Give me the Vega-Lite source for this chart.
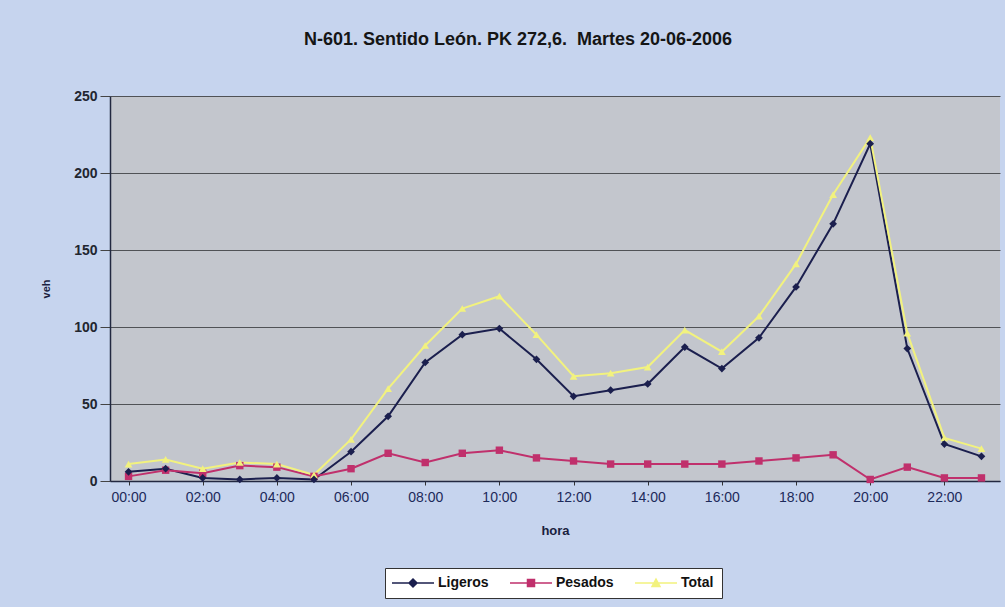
{
  "$schema": "https://vega.github.io/schema/vega-lite/v6.json",
  "width": 890,
  "height": 385,
  "autosize": {"type": "none"},
  "padding": {"left": 110, "top": 96, "right": 5, "bottom": 126},
  "background": "#c6d4ee",
  "title": {
    "text": "N-601. Sentido León. PK 272,6.\u00a0 Martes 20-06-2006",
    "font": "Liberation Sans",
    "fontSize": 18,
    "fontWeight": "bold",
    "color": "#151515",
    "offset": 40,
    "dx": -37,
    "anchor": "middle"
  },
  "config": {
    "view": {"fill": "#c3c6cd", "stroke": null},
    "axis": {"labelFont": "Liberation Sans", "titleFont": "Liberation Sans"},
    "legend": {"labelFont": "Liberation Sans"}
  },
  "data": {
    "values": [
      {"hora": "00:00", "serie": "Ligeros", "veh": 6},
      {"hora": "01:00", "serie": "Ligeros", "veh": 8},
      {"hora": "02:00", "serie": "Ligeros", "veh": 2},
      {"hora": "03:00", "serie": "Ligeros", "veh": 1},
      {"hora": "04:00", "serie": "Ligeros", "veh": 2},
      {"hora": "05:00", "serie": "Ligeros", "veh": 1},
      {"hora": "06:00", "serie": "Ligeros", "veh": 19},
      {"hora": "07:00", "serie": "Ligeros", "veh": 42},
      {"hora": "08:00", "serie": "Ligeros", "veh": 77},
      {"hora": "09:00", "serie": "Ligeros", "veh": 95},
      {"hora": "10:00", "serie": "Ligeros", "veh": 99},
      {"hora": "11:00", "serie": "Ligeros", "veh": 79},
      {"hora": "12:00", "serie": "Ligeros", "veh": 55},
      {"hora": "13:00", "serie": "Ligeros", "veh": 59},
      {"hora": "14:00", "serie": "Ligeros", "veh": 63},
      {"hora": "15:00", "serie": "Ligeros", "veh": 87},
      {"hora": "16:00", "serie": "Ligeros", "veh": 73},
      {"hora": "17:00", "serie": "Ligeros", "veh": 93},
      {"hora": "18:00", "serie": "Ligeros", "veh": 126},
      {"hora": "19:00", "serie": "Ligeros", "veh": 167},
      {"hora": "20:00", "serie": "Ligeros", "veh": 219},
      {"hora": "21:00", "serie": "Ligeros", "veh": 86},
      {"hora": "22:00", "serie": "Ligeros", "veh": 24},
      {"hora": "23:00", "serie": "Ligeros", "veh": 16},
      {"hora": "00:00", "serie": "Pesados", "veh": 3},
      {"hora": "01:00", "serie": "Pesados", "veh": 7},
      {"hora": "02:00", "serie": "Pesados", "veh": 5},
      {"hora": "03:00", "serie": "Pesados", "veh": 10},
      {"hora": "04:00", "serie": "Pesados", "veh": 9},
      {"hora": "05:00", "serie": "Pesados", "veh": 3},
      {"hora": "06:00", "serie": "Pesados", "veh": 8},
      {"hora": "07:00", "serie": "Pesados", "veh": 18},
      {"hora": "08:00", "serie": "Pesados", "veh": 12},
      {"hora": "09:00", "serie": "Pesados", "veh": 18},
      {"hora": "10:00", "serie": "Pesados", "veh": 20},
      {"hora": "11:00", "serie": "Pesados", "veh": 15},
      {"hora": "12:00", "serie": "Pesados", "veh": 13},
      {"hora": "13:00", "serie": "Pesados", "veh": 11},
      {"hora": "14:00", "serie": "Pesados", "veh": 11},
      {"hora": "15:00", "serie": "Pesados", "veh": 11},
      {"hora": "16:00", "serie": "Pesados", "veh": 11},
      {"hora": "17:00", "serie": "Pesados", "veh": 13},
      {"hora": "18:00", "serie": "Pesados", "veh": 15},
      {"hora": "19:00", "serie": "Pesados", "veh": 17},
      {"hora": "20:00", "serie": "Pesados", "veh": 1},
      {"hora": "21:00", "serie": "Pesados", "veh": 9},
      {"hora": "22:00", "serie": "Pesados", "veh": 2},
      {"hora": "23:00", "serie": "Pesados", "veh": 2},
      {"hora": "00:00", "serie": "Total", "veh": 11},
      {"hora": "01:00", "serie": "Total", "veh": 14},
      {"hora": "02:00", "serie": "Total", "veh": 8},
      {"hora": "03:00", "serie": "Total", "veh": 12},
      {"hora": "04:00", "serie": "Total", "veh": 11},
      {"hora": "05:00", "serie": "Total", "veh": 4},
      {"hora": "06:00", "serie": "Total", "veh": 27},
      {"hora": "07:00", "serie": "Total", "veh": 60},
      {"hora": "08:00", "serie": "Total", "veh": 88},
      {"hora": "09:00", "serie": "Total", "veh": 112},
      {"hora": "10:00", "serie": "Total", "veh": 120},
      {"hora": "11:00", "serie": "Total", "veh": 95},
      {"hora": "12:00", "serie": "Total", "veh": 68},
      {"hora": "13:00", "serie": "Total", "veh": 70},
      {"hora": "14:00", "serie": "Total", "veh": 74},
      {"hora": "15:00", "serie": "Total", "veh": 98},
      {"hora": "16:00", "serie": "Total", "veh": 84},
      {"hora": "17:00", "serie": "Total", "veh": 107},
      {"hora": "18:00", "serie": "Total", "veh": 141},
      {"hora": "19:00", "serie": "Total", "veh": 186},
      {"hora": "20:00", "serie": "Total", "veh": 223},
      {"hora": "21:00", "serie": "Total", "veh": 96},
      {"hora": "22:00", "serie": "Total", "veh": 28},
      {"hora": "23:00", "serie": "Total", "veh": 21}
    ]
  },
  "encoding": {
    "x": {
      "field": "hora",
      "type": "ordinal",
      "sort": null,
      "scale": {"type": "point", "padding": 0.5},
      "axis": {
        "title": "hora",
        "titleFontSize": 13,
        "titleFontWeight": "bold",
        "titleColor": "#1a1f40",
        "titlePadding": 20,
        "values": ["00:00", "02:00", "04:00", "06:00", "08:00", "10:00", "12:00", "14:00", "16:00", "18:00", "20:00", "22:00"],
        "labelAngle": 0,
        "labelFontSize": 14,
        "labelColor": "#1d2a5a",
        "labelPadding": 5,
        "tickSize": 4,
        "tickColor": "#333333",
        "domainColor": "#222840",
        "domainWidth": 1.5,
        "grid": false
      }
    },
    "y": {
      "field": "veh",
      "type": "quantitative",
      "scale": {"domain": [0, 250], "nice": false},
      "axis": {
        "title": "veh",
        "titleFontSize": 11,
        "titleFontWeight": "bold",
        "titleColor": "#1a1f40",
        "titlePadding": 22,
        "values": [0, 50, 100, 150, 200, 250],
        "labelFontSize": 14,
        "labelFontWeight": "bold",
        "labelColor": "#222630",
        "labelPadding": 3,
        "tickSize": 10,
        "tickColor": "#444444",
        "domainColor": "#222840",
        "domainWidth": 1.5,
        "grid": true,
        "gridColor": "#505256",
        "gridWidth": 1
      }
    },
    "color": {
      "field": "serie",
      "type": "nominal",
      "scale": {"domain": ["Ligeros", "Pesados", "Total"], "range": ["#1b1f4e", "#c0306c", "#f2f27e"]},
      "legend": {
        "title": null,
        "orient": "none",
        "legendX": 275,
        "legendY": 472,
        "direction": "horizontal",
        "fillColor": "#ffffff",
        "strokeColor": "#333333",
        "padding": 8,
        "symbolSize": 100,
        "symbolOffset": 13,
        "labelOffset": 18,
        "labelFontSize": 14,
        "labelFontWeight": "bold",
        "labelColor": "#111111",
        "columnPadding": 18,
        "encode": {
          "symbols": {
            "update": {
              "shape": {"signal": "datum.value === 'Ligeros' ? 'M-4.2,0L4.2,0M0,-0.8L0.8,0L0,0.8L-0.8,0Z' : datum.value === 'Pesados' ? 'M-4.2,0L4.2,0M-0.7,-0.7L0.7,-0.7L0.7,0.7L-0.7,0.7Z' : 'M-4.2,0L4.2,0M0,-0.8L0.8,0.7L-0.8,0.7Z'"},
              "stroke": {"signal": "datum.value === 'Ligeros' ? '#1b1f4e' : datum.value === 'Pesados' ? '#c0306c' : '#f2f27e'"},
              "fill": {"signal": "datum.value === 'Ligeros' ? '#1b1f4e' : datum.value === 'Pesados' ? '#c0306c' : '#f2f27e'"},
              "strokeWidth": {"value": 1.5},
              "opacity": {"value": 1}
            }
          }
        }
      }
    }
  },
  "layer": [
    {
      "mark": {"type": "line", "strokeWidth": 2},
      "encoding": {
        "order": {"field": "serie", "sort": "descending"}
      }
    },
    {
      "transform": [{"filter": "datum.serie === 'Pesados'"}],
      "mark": {"type": "point", "filled": true, "opacity": 1, "size": 55, "shape": "square"}
    },
    {
      "transform": [{"filter": "datum.serie === 'Total'"}],
      "mark": {"type": "point", "filled": true, "opacity": 1, "size": 60, "shape": "triangle-up"}
    },
    {
      "transform": [{"filter": "datum.serie === 'Ligeros'"}],
      "mark": {"type": "point", "filled": true, "opacity": 1, "size": 60, "shape": "diamond"}
    }
  ]
}
